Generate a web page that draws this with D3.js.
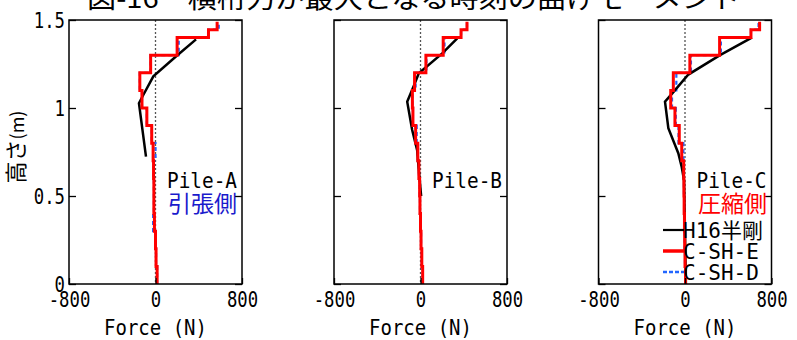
<!DOCTYPE html>
<html>
<head>
<meta charset="utf-8">
<script src="https://cdn.jsdelivr.net/npm/d3@7"></script>
<style>
  body { margin: 0; background: #fff; }
  svg { display: block; }
  text { font-family: "DejaVu Sans Mono", "Noto Sans CJK JP", sans-serif; fill: #000; }
</style>
</head>
<body>
<svg width="797" height="340"></svg>
<script>
// step boundaries (m) for the C-SH models
var stepHeights = [0, 0.1, 0.2, 0.3, 0.4, 0.5, 0.6, 0.7, 0.8, 0.9, 1.0, 1.1, 1.2, 1.3, 1.4, 1.445, 1.49];

// C-SH-E (red) and C-SH-D (blue) forces per segment, bottom to top
var redA  = [15, 5, 0, -10, -15, -15, -18, -22, -35, -80, -125, -145, -45, 200, 490, 570];
var blueA = [15, 5, 0, -22, -15, -15, -18, 0, -35, -80, -125, -145, -45, 215, 490, 585];
var redB  = [20, 12, 5, 0, -5, -8, -15, -25, -45, -70, -75, -55, 50, 210, 375, 430];
var blueB = [20, 12, 5, 0, -5, -8, -15, -25, -35, -70, -75, -45, 55, 222, 375, 430];
var redC  = [5, 0, -3, -5, -8, -10, -12, -30, -53, -93, -132, -108, 45, 320, 610, 690];
var blueC = [5, 0, -3, -5, -8, -10, -12, -15, -60, -85, -120, -80, 55, 332, 610, 680];

// H16半剛 (black) [height, force]
var blackA = [[1.39, 375], [1.30, 202], [1.18, -20], [1.074, -113], [1.027, -153], [0.724, -88]];
var blackB = [[1.396, 340], [1.31, 201], [1.197, -16], [1.15, -46], [1.036, -123], [0.875, -77],
              [0.76, -31], [0.648, -16], [0.5, 6]];
var blackC = [[1.40, 618], [1.30, 324], [1.19, 31], [1.09, -108], [1.036, -185], [0.885, -154],
              [0.743, -62], [0.667, -31], [0.59, -9], [0.3, 0], [0, 8]];

var xTicks = [-800, 0, 800];
var yTicks = [0, 0.5, 1, 1.5];
var pileNames = ["Pile-A", "Pile-B", "Pile-C"];
var legendNames = ["H16半剛", "C-SH-E", "C-SH-D"];

var svg = d3.select("svg");
var plotTop = 20, plotBottom = 284, panelW = 173;
var lefts = [69, 334, 598.5];

var y = d3.scaleLinear().domain([0, 1.5]).range([plotBottom, plotTop]);

var stepPoints = function(vals) {
    var pts = [];
    for (var i = 0; i < vals.length; i++) {
        pts.push({f: vals[i], h: stepHeights[i]});
        pts.push({f: vals[i], h: stepHeights[i + 1]});
    }
    return pts;
}

// title, mostly cut off at the top of the picture
svg.append("text")
    .attr("x", 87).attr("y", 8)
    .attr("textLength", 653).attr("lengthAdjust", "spacingAndGlyphs")
    .style("font-family", "Noto Sans CJK JP")
    .style("font-size", "26px")
    .text("図-16　横桁力が最大となる時刻の曲げモーメント");

var panels = [
    {red: redA, blue: blueA, black: blackA},
    {red: redB, blue: blueB, black: blackB},
    {red: redC, blue: blueC, black: blackC}
];

panels.forEach(function(p, k) {
    var x = d3.scaleLinear().domain([-800, 800]).range([lefts[k], lefts[k] + panelW]);
    var g = svg.append("g");

    var line = d3.line()
        .x(function(d) { return x(d.f); })
        .y(function(d) { return y(d.h); });

    // zero line
    g.append("line")
        .attr("x1", x(0)).attr("x2", x(0))
        .attr("y1", plotTop).attr("y2", plotBottom)
        .attr("stroke", "#555").attr("stroke-width", 1.3)
        .attr("stroke-dasharray", "2,2");

    g.append("path")
        .attr("d", line(stepPoints(p.blue)))
        .attr("fill", "none").attr("stroke", "#2266ff")
        .attr("stroke-width", 2.2).attr("stroke-dasharray", "4,3");

    g.append("path")
        .attr("d", line(p.black.map(function(d) { return {h: d[0], f: d[1]}; })))
        .attr("fill", "none").attr("stroke", "#000").attr("stroke-width", 2.5);

    g.append("path")
        .attr("d", line(stepPoints(p.red)))
        .attr("fill", "none").attr("stroke", "#ff0000").attr("stroke-width", 3);

    // inward ticks
    var left = g.append("g")
        .attr("transform", "translate(" + lefts[k] + ",0)")
        .call(d3.axisLeft(y).tickValues(yTicks).tickSize(-7).tickPadding(4)
              .tickFormat(k === 0 ? function(d) { return d; } : ""));
    var right = g.append("g")
        .attr("transform", "translate(" + (lefts[k] + panelW) + ",0)")
        .call(d3.axisRight(y).tickValues(yTicks).tickSize(-7).tickFormat(""));
    var bot = g.append("g")
        .attr("transform", "translate(0," + plotBottom + ")")
        .call(d3.axisBottom(x).tickValues(xTicks).tickSize(-6).tickPadding(7)
              .tickFormat(function(d) { return d; }));

    [left, right, bot].forEach(function(a) {
        a.select(".domain").remove();
        a.selectAll("line").attr("stroke", "#000").attr("stroke-width", 1.3);
        a.selectAll("text")
            .style("font-size", "22px")
            .attr("fill", "#000")
            .style("font-family", "DejaVu Sans Mono")
            .attr("textLength", function() { return this.textContent.length * 10.4; })
            .attr("lengthAdjust", "spacingAndGlyphs");
    });

    g.append("rect")
        .attr("x", lefts[k]).attr("y", plotTop)
        .attr("width", panelW).attr("height", plotBottom - plotTop)
        .attr("fill", "none").attr("stroke", "#000").attr("stroke-width", 1.5);

    g.append("text")
        .attr("x", lefts[k] + panelW / 2).attr("y", 335)
        .attr("text-anchor", "middle")
        .attr("textLength", 103).attr("lengthAdjust", "spacingAndGlyphs")
        .style("font-size", "21px")
        .text("Force (N)");

    g.append("text")
        .attr("x", lefts[k] + panelW - 5).attr("y", 188)
        .attr("text-anchor", "end")
        .attr("textLength", 70).attr("lengthAdjust", "spacingAndGlyphs")
        .style("font-size", "21px")
        .text(pileNames[k]);
});

svg.append("text")
    .attr("x", 237).attr("y", 212)
    .attr("text-anchor", "end")
    .style("font-family", "Noto Sans CJK JP").style("font-size", "23px")
    .style("fill", "#1a1acc")
    .text("引張側");

svg.append("text")
    .attr("x", 767).attr("y", 212)
    .attr("text-anchor", "end")
    .style("font-family", "Noto Sans CJK JP").style("font-size", "23px")
    .style("fill", "#ff0000")
    .text("圧縮側");

// legend
var legendY = [230, 251, 272];
var legendStyle = [
    {stroke: "#000", width: 2.2, dash: null},
    {stroke: "#ff0000", width: 3.5, dash: null},
    {stroke: "#2266ff", width: 2.5, dash: "4,2"}
];
legendNames.forEach(function(name, i) {
    svg.append("line")
        .attr("x1", 663).attr("x2", 684)
        .attr("y1", legendY[i]).attr("y2", legendY[i])
        .attr("stroke", legendStyle[i].stroke)
        .attr("stroke-width", legendStyle[i].width)
        .attr("stroke-dasharray", legendStyle[i].dash);
    svg.append("text")
        .attr("x", 683).attr("y", legendY[i] + 8)
        .style("font-size", "21px")
        .text(name);
});

// y label
svg.append("text")
    .attr("transform", "translate(24,147) rotate(-90)")
    .attr("text-anchor", "middle")
    .style("font-family", "Noto Sans CJK JP")
    .call(function(t) {
        t.append("tspan").style("font-size", "22px").text("高さ");
        t.append("tspan").style("font-size", "18px").text("(m)");
    });
</script>
</body>
</html>
